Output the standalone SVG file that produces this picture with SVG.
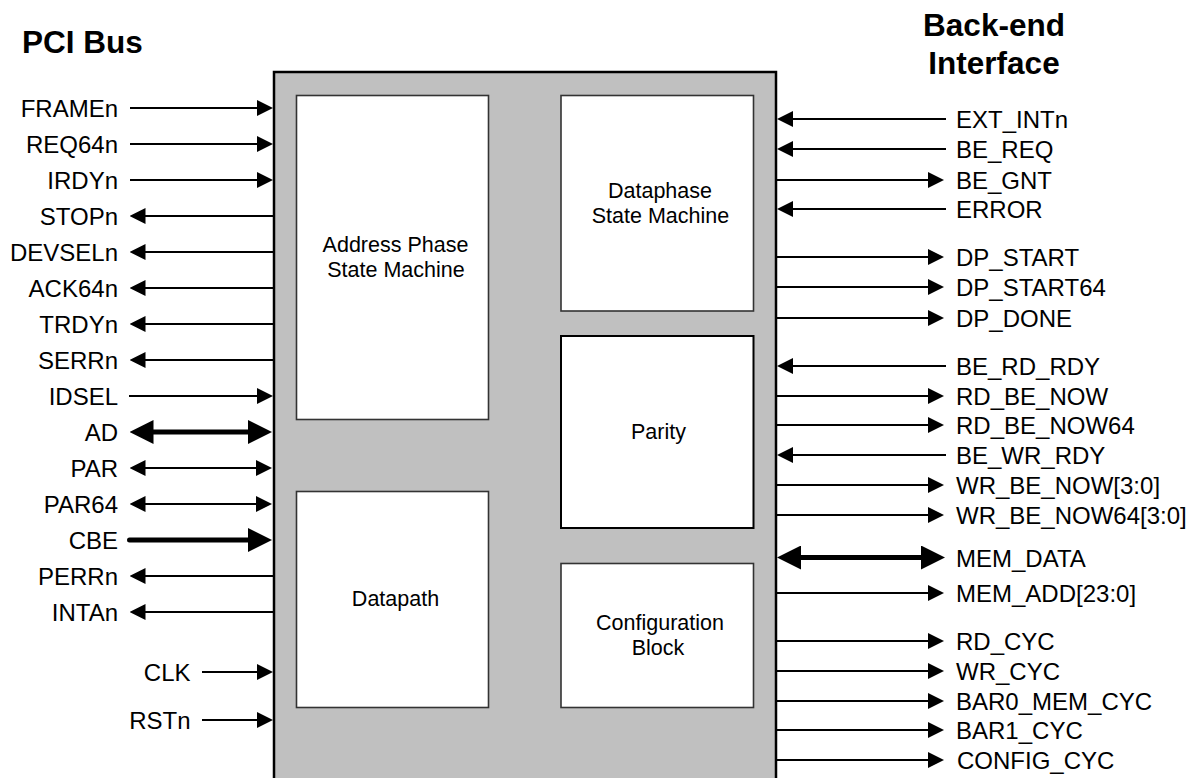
<svg xmlns="http://www.w3.org/2000/svg" width="1203" height="778" viewBox="0 0 1203 778">
<style>
.hdr{font-family:"Liberation Sans",Arial,sans-serif;font-weight:bold;font-size:31.5px;fill:#000}
.lbl{font-family:"Liberation Sans",Arial,sans-serif;font-size:24px;fill:#000}
.l{text-anchor:end}
.blk{font-family:"Liberation Sans",Arial,sans-serif;font-size:21.5px;fill:#000;text-anchor:middle}
.box{fill:#fff;stroke:#333;stroke-width:1.6}
.w{stroke:#000;stroke-width:2;fill:none}
.t{stroke:#000;stroke-width:5;fill:none}
.in{marker-end:url(#a)}
.bi{marker-start:url(#a);marker-end:url(#a)}
.tin{marker-end:url(#b)}
.tbi{marker-start:url(#b);marker-end:url(#b)}
</style>
<defs>
<marker id="a" markerUnits="userSpaceOnUse" viewBox="0 0 16 16" markerWidth="16" markerHeight="16" refX="3" refY="8" orient="auto-start-reverse"><path d="M0,0 L16,8 L0,16 Z" fill="#000"/></marker>
<marker id="b" markerUnits="userSpaceOnUse" viewBox="0 0 24 24" markerWidth="24" markerHeight="24" refX="4" refY="12" orient="auto-start-reverse"><path d="M0,0 L24,12 L0,24 Z" fill="#000"/></marker>
</defs>

<text class="hdr" x="22" y="53">PCI Bus</text>
<text class="hdr" x="994" y="35.5" text-anchor="middle">Back-end</text>
<text class="hdr" x="994" y="74" text-anchor="middle">Interface</text>

<g id="core">
<rect x="274" y="72" width="502" height="720" fill="#c0c0c0" stroke="#000" stroke-width="2.5"/>
</g>
<g id="addr"><rect class="box" x="296.5" y="95.5" width="192" height="324"/><text class="blk" x="395.5" y="252">Address Phase</text><text class="blk" x="396" y="277">State Machine</text></g>
<g id="dataphase"><rect class="box" x="561" y="95.5" width="192.5" height="215.5"/><text class="blk" x="660" y="198">Dataphase</text><text class="blk" x="660.5" y="223">State Machine</text></g>
<g id="parity"><rect x="561" y="336" width="192.5" height="192" fill="#fff" stroke="#000" stroke-width="2"/><text class="blk" x="658.5" y="438.5">Parity</text></g>
<g id="datapath"><rect class="box" x="296.5" y="491.5" width="192" height="216"/><text class="blk" x="395.5" y="606">Datapath</text></g>
<g id="config"><rect class="box" x="561" y="563.5" width="192.5" height="144"/><text class="blk" x="660" y="630">Configuration</text><text class="blk" x="658" y="655">Block</text></g>

<g id="connectors">
<!-- left inputs -->
<path class="w in" d="M130,108 H260"/>
<path class="w in" d="M130,144 H260"/>
<path class="w in" d="M130,180 H260"/>
<path class="w in" d="M129,396 H260"/>
<path class="w in" d="M202,672 H260"/>
<path class="w in" d="M202,720 H260"/>
<!-- left outputs -->
<path class="w in" d="M273,216 H142.5"/>
<path class="w in" d="M273,252 H142.5"/>
<path class="w in" d="M273,288 H142.5"/>
<path class="w in" d="M273,324 H142.5"/>
<path class="w in" d="M273,360 H142.5"/>
<path class="w in" d="M273,576 H142.5"/>
<path class="w in" d="M273,612 H142.5"/>
<!-- left bidir -->
<path class="w bi" d="M142.5,468 H259"/>
<path class="w bi" d="M142.5,504 H259"/>
<path class="t tbi" d="M149.5,432 H252"/>
<path class="t tin" d="M129.5,540 H252" stroke-linecap="round"/>
<!-- right -->
<path class="w in" d="M946,119 H790"/>
<path class="w in" d="M946,149 H790"/>
<path class="w in" d="M776,180 H931"/>
<path class="w in" d="M946,209 H790"/>
<path class="w in" d="M776,257 H931"/>
<path class="w in" d="M776,287 H931"/>
<path class="w in" d="M776,318 H931"/>
<path class="w in" d="M946,366 H790"/>
<path class="w in" d="M776,396 H931"/>
<path class="w in" d="M776,425 H931"/>
<path class="w in" d="M946,455 H790"/>
<path class="w in" d="M776,485 H931"/>
<path class="w in" d="M776,515 H931"/>
<path class="t tbi" d="M797,557.5 H925"/>
<path class="w in" d="M776,593 H931"/>
<path class="w in" d="M776,641 H931"/>
<path class="w in" d="M776,671 H931"/>
<path class="w in" d="M776,701 H931"/>
<path class="w in" d="M776,730 H931"/>
<path class="w in" d="M776,760 H931"/>
</g>

<g id="left-labels">
<text class="lbl l" x="118" y="117">FRAMEn</text>
<text class="lbl l" x="118" y="153">REQ64n</text>
<text class="lbl l" x="118" y="189">IRDYn</text>
<text class="lbl l" x="118" y="225">STOPn</text>
<text class="lbl l" x="118" y="261">DEVSELn</text>
<text class="lbl l" x="118" y="297">ACK64n</text>
<text class="lbl l" x="118" y="333">TRDYn</text>
<text class="lbl l" x="118" y="369">SERRn</text>
<text class="lbl l" x="118" y="405">IDSEL</text>
<text class="lbl l" x="118" y="441">AD</text>
<text class="lbl l" x="118" y="477">PAR</text>
<text class="lbl l" x="118" y="513">PAR64</text>
<text class="lbl l" x="118" y="549">CBE</text>
<text class="lbl l" x="118" y="585">PERRn</text>
<text class="lbl l" x="118" y="621">INTAn</text>
<text class="lbl l" x="190.5" y="681">CLK</text>
<text class="lbl l" x="190.5" y="729">RSTn</text>
</g>
<g id="right-labels">
<text class="lbl" x="956" y="128">EXT_INTn</text>
<text class="lbl" x="956" y="158">BE_REQ</text>
<text class="lbl" x="956" y="189">BE_GNT</text>
<text class="lbl" x="956" y="218">ERROR</text>
<text class="lbl" x="956" y="266">DP_START</text>
<text class="lbl" x="956" y="296">DP_START64</text>
<text class="lbl" x="956" y="327">DP_DONE</text>
<text class="lbl" x="956" y="375">BE_RD_RDY</text>
<text class="lbl" x="956" y="405">RD_BE_NOW</text>
<text class="lbl" x="956" y="434">RD_BE_NOW64</text>
<text class="lbl" x="956" y="464">BE_WR_RDY</text>
<text class="lbl" x="956" y="494">WR_BE_NOW[3:0]</text>
<text class="lbl" x="956" y="524">WR_BE_NOW64[3:0]</text>
<text class="lbl" x="956" y="567">MEM_DATA</text>
<text class="lbl" x="956" y="602">MEM_ADD[23:0]</text>
<text class="lbl" x="956" y="650">RD_CYC</text>
<text class="lbl" x="956" y="680">WR_CYC</text>
<text class="lbl" x="956" y="710">BAR0_MEM_CYC</text>
<text class="lbl" x="956" y="739">BAR1_CYC</text>
<text class="lbl" x="957" y="769">CONFIG_CYC</text>
</g>
</svg>
